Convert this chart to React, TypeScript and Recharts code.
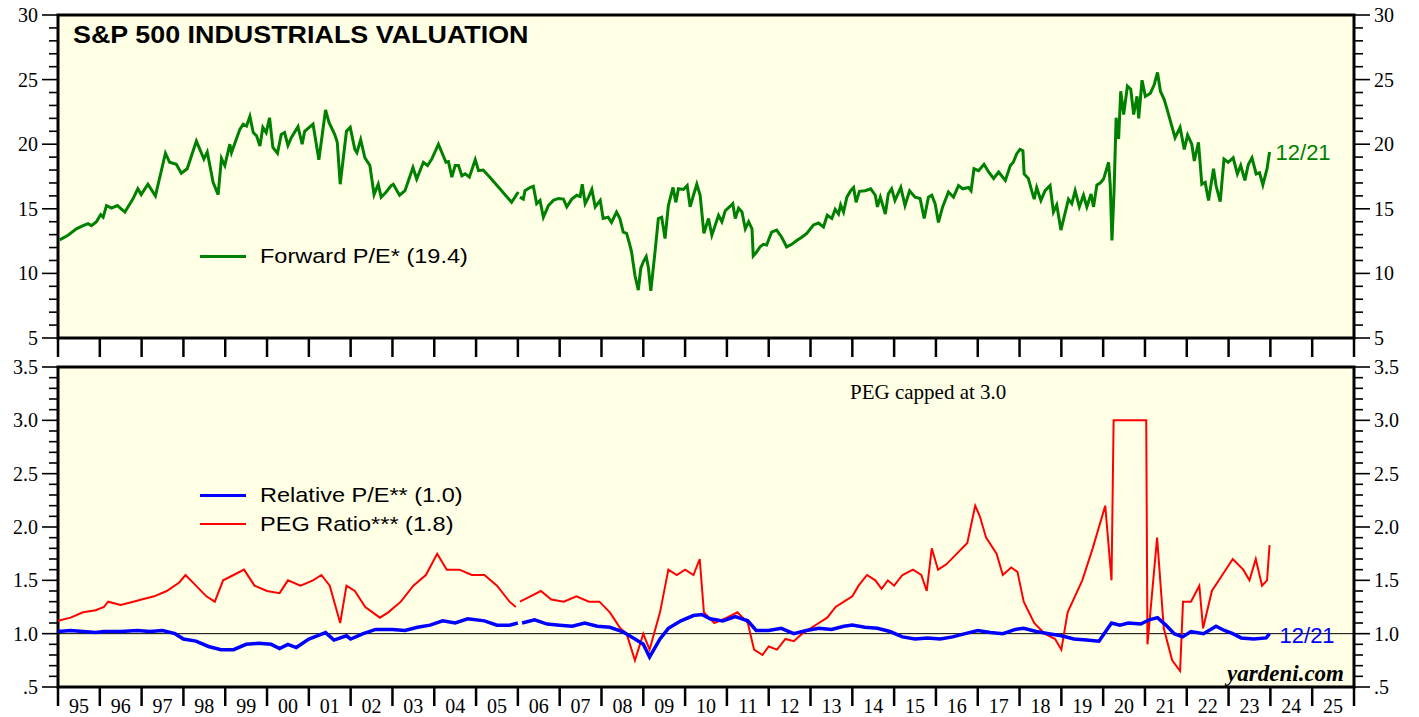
import React from 'react';
import { LineChart, Line, XAxis, YAxis, ReferenceArea, ReferenceLine } from 'recharts';

// Forward P/E (weekly, sampled)
const peDates = [
  1995.04, 1995.24, 1995.44, 1995.6, 1995.72, 1995.8, 1995.92, 1996.02, 1996.08, 1996.16, 1996.28, 1996.42,
  1996.6, 1996.79, 1996.91, 1996.99, 1997.15, 1997.33, 1997.57, 1997.67, 1997.83, 1997.95, 1998.09, 1998.31,
  1998.49, 1998.57, 1998.71, 1998.83, 1998.91, 1998.99, 1999.11, 1999.15, 1999.35, 1999.43, 1999.51, 1999.59,
  1999.67, 1999.75, 1999.83, 1999.9, 1999.98, 2000.06, 2000.14, 2000.25, 2000.34, 2000.42, 2000.5, 2000.58,
  2000.74, 2000.84, 2000.9, 2001.1, 2001.24, 2001.4, 2001.48, 2001.62, 2001.68, 2001.75, 2001.9, 2001.99,
  2002.1, 2002.15, 2002.24, 2002.34, 2002.46, 2002.56, 2002.66, 2002.73, 2002.85, 2002.97, 2003.02, 2003.17,
  2003.3, 2003.49, 2003.58, 2003.74, 2003.84, 2003.94, 2004.1, 2004.28, 2004.34, 2004.42, 2004.5, 2004.58,
  2004.66, 2004.74, 2004.84, 2004.98, 2005.06, 2005.17, 2005.33, 2005.57, 2005.85, 2006.01, 2006.03, 2006.05,
  2006.13, 2006.17, 2006.29, 2006.37, 2006.45, 2006.53, 2006.61, 2006.73, 2006.85, 2006.97, 2007.09, 2007.17,
  2007.29, 2007.41, 2007.49, 2007.54, 2007.61, 2007.69, 2007.77, 2007.85, 2007.97, 2008.04, 2008.16, 2008.24,
  2008.36, 2008.44, 2008.52, 2008.6, 2008.67, 2008.72, 2008.8, 2008.88, 2008.94, 2009.0, 2009.07, 2009.12,
  2009.18, 2009.28, 2009.36, 2009.44, 2009.52, 2009.6, 2009.71, 2009.78, 2009.84, 2009.96, 2010.05, 2010.12,
  2010.2, 2010.28, 2010.36, 2010.45, 2010.56, 2010.64, 2010.8, 2010.88, 2010.96, 2011.08, 2011.14, 2011.2,
  2011.28, 2011.36, 2011.44, 2011.52, 2011.6, 2011.63, 2011.71, 2011.79, 2011.87, 2011.95, 2012.07, 2012.19,
  2012.31, 2012.43, 2012.55, 2012.67, 2012.79, 2012.91, 2013.07, 2013.19, 2013.31, 2013.4, 2013.51, 2013.59,
  2013.67, 2013.72, 2013.79, 2013.87, 2013.96, 2014.03, 2014.09, 2014.17, 2014.31, 2014.44, 2014.55, 2014.6,
  2014.67, 2014.79, 2014.86, 2014.94, 2015.02, 2015.16, 2015.26, 2015.37, 2015.5, 2015.62, 2015.72, 2015.82,
  2015.9, 2015.98, 2016.06, 2016.16, 2016.3, 2016.42, 2016.54, 2016.64, 2016.78, 2016.84, 2016.91, 2017.02,
  2017.15, 2017.26, 2017.38, 2017.5, 2017.66, 2017.78, 2017.85, 2017.93, 2018.01, 2018.08, 2018.11, 2018.21,
  2018.29, 2018.35, 2018.41, 2018.51, 2018.61, 2018.73, 2018.81, 2018.89, 2018.99, 2019.17, 2019.25, 2019.33,
  2019.43, 2019.53, 2019.61, 2019.71, 2019.77, 2019.85, 2019.93, 2020.01, 2020.13, 2020.17, 2020.21, 2020.26,
  2020.31, 2020.37, 2020.42, 2020.49, 2020.58, 2020.66, 2020.73, 2020.81, 2020.85, 2020.93, 2021.01, 2021.13,
  2021.22, 2021.3, 2021.37, 2021.46, 2021.53, 2021.62, 2021.72, 2021.84, 2021.94, 2022.02, 2022.12, 2022.18,
  2022.28, 2022.36, 2022.44, 2022.52, 2022.64, 2022.7, 2022.8, 2022.89, 2022.99, 2023.11, 2023.21, 2023.29,
  2023.39, 2023.47, 2023.56, 2023.66, 2023.74, 2023.82, 2023.92, 2023.98,
];
const peValues = [
  12.6, 12.95, 13.45, 13.7, 13.85, 13.7, 14.0, 14.55, 14.35, 15.25, 15.05, 15.25,
  14.75, 15.75, 16.55, 16.1, 16.9, 16.0, 19.3, 18.6, 18.45, 17.75, 18.1, 20.25,
  18.85, 19.4, 17.05, 16.1, 18.9, 18.35, 20.0, 19.35, 21.15, 21.55, 21.4, 22.15,
  20.9, 20.65, 19.85, 21.3, 20.9, 22.05, 19.75, 19.3, 20.75, 20.9, 19.9, 20.5,
  21.35, 20.0, 21.0, 21.55, 18.8, 22.65, 21.7, 20.75, 20.15, 16.9, 21.0, 21.3,
  19.6, 19.35, 20.35, 18.95, 18.35, 16.1, 16.9, 15.9, 16.3, 16.8, 16.9, 16.05,
  16.4, 18.2, 17.3, 18.6, 18.35, 18.85, 20.0, 18.6, 18.65, 17.45, 18.35, 18.35,
  17.55, 17.7, 17.45, 18.8, 17.95, 18.0, 17.45, 16.55, 15.5, 16.3, null, 15.9,
  15.75, 16.4, 16.65, 16.75, 15.4, 15.65, 14.35, 15.25, 15.65, 15.8, 15.75, 15.15,
  15.75, 16.05, 15.95, 16.9, 15.4, 15.9, 16.5, 15.15, 15.65, 14.25, 14.35, 13.95,
  14.75, 14.25, 13.2, 13.1, 12.3, 11.65, 9.85, 8.7, 10.4, 10.9, 11.3, 10.5,
  8.65, 11.65, 14.25, 14.35, 12.7, 15.25, 16.65, 15.5, 16.55, 16.5, 16.8, 15.15,
  16.05, 16.9, 16.05, 13.1, 14.25, 12.95, 14.5, 14.0, 14.85, 15.2, 15.4, 14.25,
  15.05, 14.75, 13.45, 14.0, 13.45, 11.35, 11.65, 12.05, 12.25, 12.2, 13.2, 13.35,
  12.8, 12.05, 12.25, 12.55, 12.8, 13.1, 13.75, 13.9, 13.6, 14.5, 14.25, 14.95,
  14.6, 15.3, 14.75, 15.9, 16.4, 16.65, 15.5, 16.35, 16.4, 16.55, 16.05, 15.15,
  15.9, 14.6, 16.15, 16.55, 15.65, 16.65, 15.25, 16.4, 15.9, 15.8, 14.25, 15.9,
  16.05, 15.4, 13.95, 15.15, 16.3, 15.9, 16.8, 16.55, 16.65, 16.4, 18.1, 17.95,
  18.45, 17.85, 17.35, 17.85, 17.2, 18.35, 18.6, 19.25, 19.6, 19.5, 17.7, 17.35,
  16.4, 15.75, 16.65, 15.65, 16.4, 16.8, 14.75, 15.3, 13.35, 15.75, 15.4, 16.4,
  15.15, 16.05, 15.15, 16.15, 15.15, 16.85, 17.0, 17.3, 18.6, 16.8, 12.55, 16.3,
  22.05, 20.4, 24.1, 22.3, 24.5, 24.25, 22.3, 23.7, 22.0, 24.95, 23.7, 23.95,
  24.6, 25.55, 24.1, 23.45, 22.7, 21.65, 20.5, 21.3, 19.6, 20.7, 20.0, 18.7,
  20.15, 16.9, 17.05, 15.65, 18.1, 16.8, 15.55, 18.85, 18.6, 18.95, 17.7, 18.35,
  17.2, 18.4, 18.95, 17.7, 17.8, 16.85, 18.1, 19.4,
];

// Relative P/E
const relDates = [
  1995.0, 1995.3, 1995.6, 1995.9, 1996.1, 1996.5, 1996.9, 1997.2, 1997.5, 1997.8, 1998.0, 1998.3,
  1998.6, 1998.9, 1999.2, 1999.5, 1999.8, 2000.1, 2000.3, 2000.5, 2000.7, 2001.0, 2001.2, 2001.4,
  2001.6, 2001.9, 2002.0, 2002.3, 2002.6, 2003.0, 2003.3, 2003.6, 2003.9, 2004.2, 2004.5, 2004.8,
  2005.2, 2005.5, 2005.8, 2006.0, 2006.03, 2006.1, 2006.4, 2006.7, 2007.0, 2007.3, 2007.6, 2007.9,
  2008.2, 2008.5, 2008.8, 2009.0, 2009.15, 2009.4, 2009.6, 2009.9, 2010.2, 2010.4, 2010.6, 2010.9,
  2011.2, 2011.5, 2011.7, 2012.0, 2012.3, 2012.6, 2012.9, 2013.2, 2013.5, 2013.8, 2014.0, 2014.3,
  2014.6, 2014.9, 2015.2, 2015.5, 2015.8, 2016.1, 2016.4, 2016.7, 2017.0, 2017.3, 2017.6, 2017.9,
  2018.1, 2018.4, 2018.7, 2019.0, 2019.3, 2019.6, 2019.9, 2020.2, 2020.4, 2020.6, 2020.9, 2021.1,
  2021.3, 2021.5, 2021.7, 2021.9, 2022.1, 2022.4, 2022.7, 2022.9, 2023.1, 2023.3, 2023.6, 2023.9,
  2023.98,
];
const relValues = [
  1.02, 1.03, 1.02, 1.01, 1.02, 1.02, 1.03, 1.02, 1.03, 1.0, 0.95, 0.93,
  0.88, 0.85, 0.85, 0.9, 0.91, 0.9, 0.86, 0.9, 0.87, 0.95, 0.98, 1.01,
  0.94, 0.98, 0.95, 1.0, 1.04, 1.04, 1.03, 1.06, 1.08, 1.12, 1.1, 1.14,
  1.12, 1.08, 1.08, 1.1, null, 1.1, 1.13, 1.09, 1.08, 1.07, 1.1, 1.07,
  1.06, 1.02, 0.95, 0.9, 0.78, 0.95, 1.05, 1.12, 1.17, 1.18, 1.14, 1.12,
  1.16, 1.12, 1.03, 1.03, 1.05, 1.0, 1.03, 1.05, 1.04, 1.07, 1.08, 1.06,
  1.05, 1.02, 0.97, 0.95, 0.96, 0.95, 0.97, 1.0, 1.03, 1.01, 1.0, 1.04,
  1.05, 1.02, 1.0, 0.98, 0.95, 0.94, 0.93, 1.1, 1.08, 1.1, 1.09, 1.13,
  1.15, 1.08, 1.0, 0.97, 1.02, 1.0, 1.07, 1.03, 1.0, 0.96, 0.95, 0.96,
  1.0,
];

// PEG ratio (capped at 3.0)
const pegDates = [
  1995.0, 1995.3, 1995.6, 1995.9, 1996.1, 1996.2, 1996.5, 1996.8, 1997.0, 1997.3, 1997.6, 1997.9,
  1998.05, 1998.3, 1998.55, 1998.75, 1998.95, 1999.2, 1999.45, 1999.7, 2000.0, 2000.3, 2000.5, 2000.8,
  2001.1, 2001.3, 2001.5, 2001.75, 2001.9, 2002.1, 2002.35, 2002.7, 2002.9, 2003.2, 2003.5, 2003.8,
  2004.07, 2004.3, 2004.6, 2004.9, 2005.2, 2005.5, 2005.8, 2005.95, 2006.0, 2006.05, 2006.3, 2006.55,
  2006.8, 2007.1, 2007.4, 2007.7, 2007.95, 2008.2, 2008.45, 2008.6, 2008.8, 2009.0, 2009.15, 2009.4,
  2009.6, 2009.8, 2010.0, 2010.2, 2010.35, 2010.45, 2010.7, 2011.0, 2011.25, 2011.5, 2011.65, 2011.85,
  2012.0, 2012.2, 2012.4, 2012.6, 2012.8, 2013.0, 2013.2, 2013.4, 2013.6, 2013.8, 2014.0, 2014.15,
  2014.35, 2014.55, 2014.7, 2014.85, 2015.0, 2015.2, 2015.45, 2015.65, 2015.78, 2015.9, 2016.05, 2016.25,
  2016.5, 2016.75, 2016.94, 2017.05, 2017.2, 2017.45, 2017.6, 2017.8, 2017.95,
  2018.1, 2018.35, 2018.6, 2018.85, 2019.0, 2019.15, 2019.5, 2019.75, 2020.05, 2020.2, 2020.25, 2021.03,
  2021.06, 2021.29, 2021.45, 2021.65, 2021.84, 2021.91, 2022.1, 2022.3, 2022.39, 2022.6, 2022.85, 2023.1,
  2023.35, 2023.5, 2023.65, 2023.8, 2023.92, 2023.98,
];
const pegValues = [
  1.12, 1.15, 1.2, 1.22, 1.25, 1.3, 1.27, 1.3, 1.32, 1.35, 1.4, 1.48,
  1.55, 1.45, 1.35, 1.3, 1.5, 1.55, 1.6, 1.45, 1.4, 1.38, 1.5, 1.45,
  1.5, 1.55, 1.45, 1.1, 1.45, 1.4, 1.25, 1.15, 1.2, 1.3, 1.45, 1.55,
  1.75, 1.6, 1.6, 1.55, 1.55, 1.45, 1.3, 1.25, null, 1.3, 1.35, 1.4,
  1.32, 1.3, 1.35, 1.3, 1.3, 1.2, 1.05, 1.0, 0.75, 1.0, 0.85, 1.2,
  1.6, 1.55, 1.6, 1.55, 1.7, 1.2, 1.1, 1.15, 1.2, 1.1, 0.85, 0.8,
  0.88, 0.85, 0.95, 0.93, 1.0, 1.05, 1.1, 1.15, 1.25, 1.3, 1.35, 1.45,
  1.55, 1.5, 1.42, 1.5, 1.45, 1.55, 1.6, 1.55, 1.4, 1.8, 1.6, 1.65,
  1.75, 1.85, 2.2, 2.1, 1.9, 1.75, 1.55, 1.62, 1.58,
  1.3, 1.1, 1.0, 0.95, 0.85, 1.2, 1.5, 1.8, 2.2, 1.5, 3.0, 3.0,
  0.9, 1.9, 1.05, 0.75, 0.65, 1.3, 1.3, 1.45, 1.05, 1.4, 1.55, 1.7,
  1.6, 1.5, 1.7, 1.45, 1.5, 1.83,
];

const yearTicks = [
  1995, 1996, 1997, 1998, 1999, 2000, 2001, 2002, 2003, 2004, 2005, 2006, 2007, 2008, 2009, 2010,
  2011, 2012, 2013, 2014, 2015, 2016, 2017, 2018, 2019, 2020, 2021, 2022, 2023, 2024, 2025, 2026,
];
const peTicks = [5, 6, 7, 8, 9, 10, 11, 12, 13, 14, 15, 16, 17, 18, 19, 20, 21, 22, 23, 24, 25, 26, 27, 28, 29, 30];
const ratioTicks = Array.from({ length: 31 }, (_, i) => Math.round((0.5 + i * 0.1) * 10) / 10);

const peData = peDates.map((t, i) => ({ t, v: peValues[i] }));
const relData = relDates.map((t, i) => ({ t, v: relValues[i] }));
const pegData = pegDates.map((t, i) => ({ t, v: pegValues[i] }));

const BG = '#FFFFE6';
const SERIF = '"Liberation Serif", "Times New Roman", serif';
const SANS = '"Liberation Sans", Arial, sans-serif';
const W = 1419;
const YEAR_PX = (1354 - 58) / 31;

const fmtPe = (v: number) => (v % 5 === 0 ? String(v) : '');
const fmtRatio = (v: number) => {
  if (Math.round(v * 10) % 5 !== 0) return '';
  return v === 0.5 ? '.5' : v.toFixed(1);
};

const makeYTick = (side: 'left' | 'right', fmt: (v: number) => string) => (props: any) => {
  const { x, y, payload } = props;
  const label = fmt(payload.value);
  const len = label ? 16 : 9;
  const dir = side === 'left' ? -1 : 1;
  return (
    <g>
      <line x1={x} x2={x + dir * len} y1={y} y2={y} stroke="#000" strokeWidth={1.6} />
      {label && (
        <text
          x={x + dir * 20}
          y={y + 7}
          textAnchor={side === 'left' ? 'end' : 'start'}
          fontFamily={SERIF}
          fontSize={20}
          fill="#000"
        >
          {label}
        </text>
      )}
    </g>
  );
};

const makeXTick = (withLabel: boolean) => (props: any) => {
  const { x, y, payload } = props;
  const yr = payload.value as number;
  return (
    <g>
      <line x1={x} x2={x} y1={y} y2={y + 19} stroke="#000" strokeWidth={2.5} />
      {withLabel && yr < 2026 && (
        <text x={x + YEAR_PX / 2} y={y + 26} textAnchor="middle" fontFamily={SERIF} fontSize={20} fill="#000">
          {String(yr % 100).padStart(2, '0')}
        </text>
      )}
    </g>
  );
};

const endLabel = (last: number, color: string, dx: number, dy: number) => (props: any) => {
  const { cx, cy, index } = props;
  if (index !== last) return <g key={`d${index}`} />;
  return (
    <text key={`d${index}`} x={cx + dx} y={cy + dy} fontFamily={SANS} fontSize={22} fill={color}>
      12/21
    </text>
  );
};

const stretch = (sx: number): React.CSSProperties => ({
  display: 'inline-block',
  transform: `scaleX(${sx})`,
  transformOrigin: 'left center',
  whiteSpace: 'nowrap',
});

const legendRow = (top: number, color: string, thick: number, label: string) => (
  <div style={{ position: 'absolute', left: 200, top, height: 28, fontFamily: SANS, fontSize: 21, lineHeight: '28px' }}>
    <div style={{ position: 'absolute', left: 0, top: 14 - thick / 2, width: 46, height: thick, background: color }} />
    <span style={{ ...stretch(1.12), position: 'absolute', left: 60, top: 0 }}>{label}</span>
  </div>
);

export default function App() {
  return (
    <div style={{ position: 'absolute', left: 0, top: 0, width: W, height: 717, background: '#fff', overflow: 'hidden' }}>
      <div style={{ position: 'absolute', left: 0, top: 0 }}>
        <LineChart width={W} height={360} margin={{ top: 15, right: 0, bottom: 0, left: 0 }}>
          <XAxis
            dataKey="t"
            type="number"
            domain={[1995, 2026]}
            ticks={yearTicks}
            interval={0}
            allowDataOverflow
            height={22}
            tickSize={0}
            tickMargin={0}
            tickLine={false}
            axisLine={false}
            tick={makeXTick(false)}
          />
          <YAxis
            yAxisId="l"
            domain={[5, 30]}
            ticks={peTicks}
            interval={0}
            allowDataOverflow
            width={58}
            tickSize={0}
            tickMargin={0}
            tickLine={false}
            axisLine={false}
            tick={makeYTick('left', fmtPe)}
          />
          <YAxis
            yAxisId="r"
            orientation="right"
            domain={[5, 30]}
            ticks={peTicks}
            interval={0}
            allowDataOverflow
            width={65}
            tickSize={0}
            tickMargin={0}
            tickLine={false}
            axisLine={false}
            tick={makeYTick('right', fmtPe)}
          />
          <ReferenceArea yAxisId="l" x1={1995} x2={2026} y1={5} y2={30} fill={BG} fillOpacity={1} stroke="#000" strokeWidth={3} />
          <Line
            yAxisId="l"
            data={peData}
            dataKey="v"
            type="linear"
            stroke="#008000"
            strokeWidth={3}
            dot={endLabel(peData.length - 1, '#008000', 6, 8)}
            activeDot={false}
            isAnimationActive={false}
          />
        </LineChart>
      </div>
      <div style={{ position: 'absolute', left: 0, top: 340 }}>
        <LineChart width={W} height={377} margin={{ top: 27, right: 0, bottom: 0, left: 0 }}>
          <XAxis
            dataKey="t"
            type="number"
            domain={[1995, 2026]}
            ticks={yearTicks}
            interval={0}
            allowDataOverflow
            height={30}
            tickSize={0}
            tickMargin={0}
            tickLine={false}
            axisLine={false}
            tick={makeXTick(true)}
          />
          <YAxis
            yAxisId="l"
            domain={[0.5, 3.5]}
            ticks={ratioTicks}
            interval={0}
            allowDataOverflow
            width={58}
            tickSize={0}
            tickMargin={0}
            tickLine={false}
            axisLine={false}
            tick={makeYTick('left', fmtRatio)}
          />
          <YAxis
            yAxisId="r"
            orientation="right"
            domain={[0.5, 3.5]}
            ticks={ratioTicks}
            interval={0}
            allowDataOverflow
            width={65}
            tickSize={0}
            tickMargin={0}
            tickLine={false}
            axisLine={false}
            tick={makeYTick('right', fmtRatio)}
          />
          <ReferenceArea yAxisId="l" x1={1995} x2={2026} y1={0.5} y2={3.5} fill={BG} fillOpacity={1} stroke="#000" strokeWidth={3} />
          <ReferenceLine yAxisId="l" y={1} stroke="#000" strokeWidth={1} />
          <Line
            yAxisId="l"
            data={pegData}
            dataKey="v"
            type="linear"
            stroke="#FF0000"
            strokeWidth={2}
            dot={false}
            activeDot={false}
            isAnimationActive={false}
          />
          <Line
            yAxisId="l"
            data={relData}
            dataKey="v"
            type="linear"
            stroke="#0000FF"
            strokeWidth={3.5}
            dot={endLabel(relData.length - 1, '#0000FF', 10, 9)}
            activeDot={false}
            isAnimationActive={false}
          />
        </LineChart>
      </div>

      {/* titles, legends, notes */}
      <div style={{ position: 'absolute', left: 73, top: 20, fontFamily: SANS, fontWeight: 'bold', fontSize: 24, lineHeight: '30px', color: '#000' }}>
        <span style={stretch(1.12)}>S&amp;P 500 INDUSTRIALS VALUATION</span>
      </div>
      {legendRow(242, '#008000', 3, 'Forward P/E* (19.4)')}
      {legendRow(481, '#0000FF', 3, 'Relative P/E** (1.0)')}
      {legendRow(510, '#FF0000', 2, 'PEG Ratio*** (1.8)')}
      <div style={{ position: 'absolute', left: 850, top: 379, fontFamily: SERIF, fontSize: 21, lineHeight: '26px' }}>
        PEG capped at 3.0
      </div>
      <div style={{ position: 'absolute', right: W - 1344, top: 660, fontFamily: SERIF, fontWeight: 'bold', fontStyle: 'italic', fontSize: 23, lineHeight: '28px' }}>
        yardeni.com
      </div>
    </div>
  );
}
